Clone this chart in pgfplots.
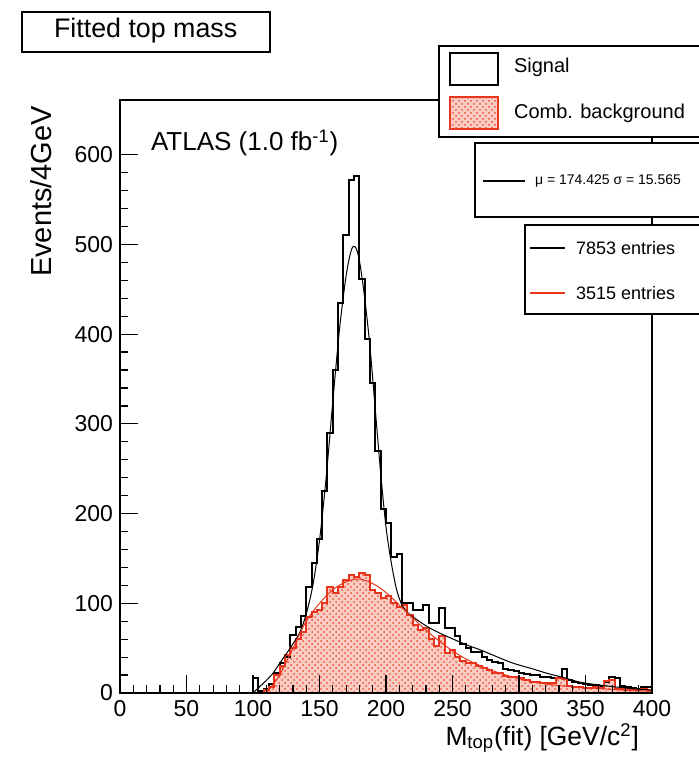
\documentclass[border=0pt]{standalone}
\usepackage{pgfplots}
\pgfplotsset{compat=1.18}
\usepackage{fontspec}
\setmainfont{Liberation Sans}
\usetikzlibrary{patterns}
\definecolor{rootred}{RGB}{232,52,28}
\definecolor{rootfill}{RGB}{250,205,196}

\pgfplotstableread{
x y
0 0
100 17
104 2
108 5
112 10
116 22
120 33
124 40
128 65
132 74
136 86
140 118
144 145
148 172
152 225
156 290
160 360
164 435
168 510
172 572
176 576
180 462
184 395
188 345
192 270
196 205
200 190
204 152
208 155
212 100
216 100
220 92
224 92
228 98
232 78
236 78
240 95
244 72
248 72
252 63
256 55
260 50
264 46
268 46
272 40
276 37
280 34
284 33
288 27
292 26
296 24
300 22
304 21
308 20
312 20
316 18
320 18
324 17
328 17
332 27
336 14
340 12
344 11
348 10
352 9
356 9
360 8
364 12
368 18
372 17
376 8
380 7
384 6
388 5
392 7
396 7
400 7
}\signal

\pgfplotstableread{
x y
0 0
108 3
112 7
116 20
120 30
124 42
128 50
132 60
136 68
140 85
144 90
148 92
152 100
156 118
160 111
164 118
168 126
172 131
176 129
180 134
184 132
188 115
192 112
196 106
200 108
204 100
208 96
212 98
216 87
220 76
224 70
228 72
232 60
236 52
240 64
244 45
248 48
252 40
256 36
260 33
264 33
268 30
272 28
276 26
280 22
284 22
288 19
292 18
296 18
300 17
304 14
308 12
312 12
316 11
320 11
324 11
328 17
332 16
336 8
340 7
344 7
348 6
352 6
356 7
360 6
364 13
368 14
372 5
376 4
380 4
384 3
388 3
392 4
396 3
400 3
}\background

\pgfplotstableread{
x y
100 0
105 7
110 14
115 22
120 33
127 48
135 67
140 88
145 120
150 170
155 240
160 325
165 405
170 465
174 494
177 497
180 482
184 440
188 385
192 315
196 245
200 185
204 145
208 115
212 98
216 90
220 85
231 74
240 67
246 63
260 54
271 48
284 40
296 33
310 27
321 22
334 17
346 12
360 9
371 7
385 5
400 3
}\sigfit

\pgfplotstableread{
x y
110 0
120 20
130 50
140 80
150 100
160 115
170 124
180 127
190 122
200 112
210 98
220 84
230 70
240 58
250 47
260 38
270 31
280 25
290 20
300 16
320 10
340 7
360 5
380 3
400 2
}\bkgfit

\begin{document}
\begin{tikzpicture}[x=1pt,y=1pt]
\useasboundingbox (0,0) rectangle (349,379);
\begin{axis}[
  scale only axis, width=266pt, height=296.5pt,
  at={(60pt,32.5pt)}, anchor=south west,
  xmin=0, xmax=400, ymin=0, ymax=661,
  xtick={0,50,...,400}, ytick={0,100,...,600},
  minor x tick num=4, minor y tick num=4,
  xtick pos=bottom, ytick pos=left, tick align=inside,
  major tick length=9pt, minor tick length=4pt,
  axis line style={line width=0.75pt},
  every tick/.style={black, line width=0.6pt},
  ticklabel style={font=\fontsize{11.5}{12}\selectfont},
  /pgf/number format/assume math mode=true,
  scaled ticks=false,
  axis on top,
]
\addplot[const plot, draw=none, fill=rootfill,
  postaction={pattern=crosshatch dots, pattern color=rootred!85}] table {\background} \closedcycle;
\addplot[const plot, black, line width=1pt] table {\signal};
\addplot[const plot, rootred, line width=1pt] table {\background};
\addplot[black, line width=0.5pt, smooth] table {\sigfit};
\addplot[rootred, line width=0.5pt, smooth] table {\bkgfit};
\end{axis}

% title box
\draw[line width=0.75pt, fill=white] (11,353) rectangle (135,373);
\node[anchor=west, font=\fontsize{13.4}{14}\selectfont] at (23.5,363.5) {Fitted top mass};

% legend box
\draw[line width=0.75pt, fill=white] (219.5,310.5) rectangle (360,356);
\draw[line width=0.75pt, fill=white] (225,336.5) rectangle (249,352.5);
\node[anchor=west, font=\fontsize{10}{11}\selectfont] at (253.5,345.5) {Signal};
\draw[line width=0.75pt, rootred, fill=rootfill, postaction={pattern=crosshatch dots, pattern color=rootred!85}] (225,314.5) rectangle (249,330.5);
\node[anchor=west, font=\fontsize{10}{11}\selectfont] at (253.5,322.5) {Comb. background};

% stats box
\draw[line width=0.75pt, fill=white] (237.5,270.5) rectangle (360,307.5);
\draw[line width=0.6pt] (241.5,288.5) -- (262.5,288.5);
\node[anchor=west, font=\fontsize{7}{8}\selectfont] at (264,288.5) {μ = 174.425 σ = 15.565};

% entries box
\draw[line width=0.75pt, fill=white] (262.5,222) rectangle (360,266.5);
\draw[line width=0.6pt] (265,255) -- (282.5,255);
\node[anchor=west, font=\fontsize{9}{10}\selectfont] at (284.5,255) {7853 entries};
\draw[line width=0.6pt, rootred] (265,232.5) -- (282.5,232.5);
\node[anchor=west, font=\fontsize{9}{10}\selectfont] at (284.5,232.5) {3515 entries};

% ATLAS label
\node[anchor=west, font=\fontsize{13}{14}\selectfont] at (72,307.5) {ATLAS (1.0 fb\textsuperscript{-1})};

% axis titles
\node[rotate=90, anchor=east, font=\fontsize{14.5}{15}\selectfont] at (20.5,329.5) {Events/4GeV};
\node[anchor=east, font=\fontsize{13.2}{14}\selectfont] at (323,10) {M\textsubscript{top}(fit) [GeV/c\textsuperscript{2}]};
\end{tikzpicture}
\end{document}
